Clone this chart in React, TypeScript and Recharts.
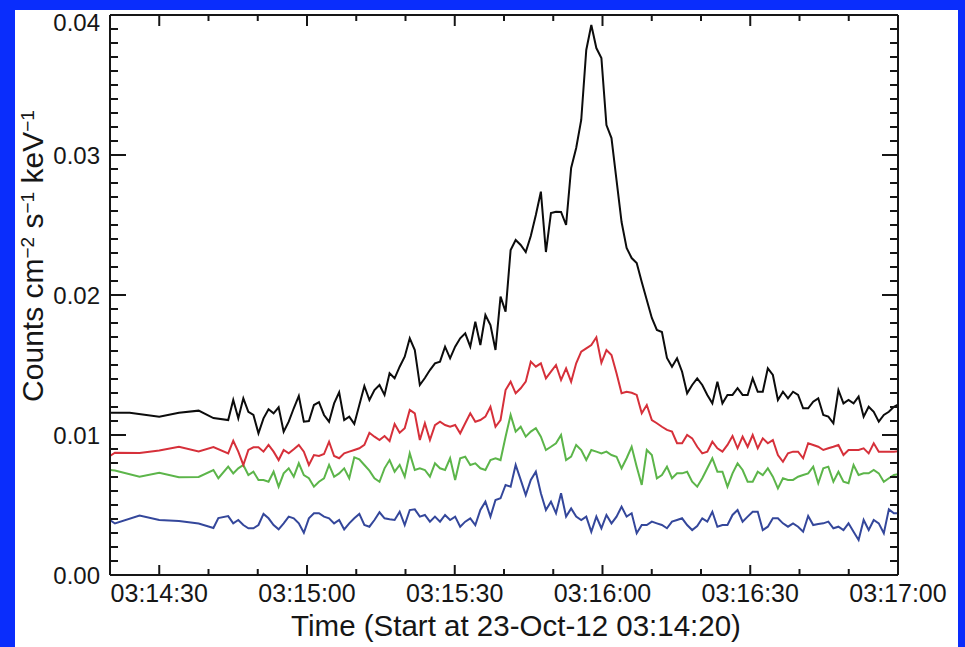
import { Line, LineChart, XAxis, YAxis } from 'recharts'

const INK = '#161616'
const FONT = '"Liberation Sans", Arial, Helvetica, sans-serif'

// seconds after 03:14:20 — a sparse stretch first, then regular 1.024 s bins
const EARLY_SECONDS = [0, 1, 4, 6, 10, 14, 18, 21, 22]
const BIN_START = 24
const BIN_WIDTH = 1.024

// fluxes in units of 1e-3 counts cm^-2 s^-1 keV^-1
const BLACK_EARLY = [11.59, null, 11.59, null, 11.31, 11.59, 11.74, 11.21, null]
const RED_EARLY = [8.5, 8.74, null, 8.71, 8.89, 9.16, 8.82, 9.14, null]
const GREEN_EARLY = [7.5, 7.46, null, 7.02, 7.31, 6.98, 7.0, 7.5, 6.91]
const BLUE_EARLY = [3.93, 3.68, null, 4.25, 3.93, 3.86, 3.68, 3.36, 4.07]

const BLACK = [
  11.07, 12.5, 11.19, 12.62, 11.66, 11.43, 10.12, 11.19, 11.84, 11.55,
  11.98, 10.24, 10.95, 11.91, 12.79, 10.95, 11.0, 12.14, 12.34, 11.43,
  10.95, 12.26, 13.05, 11.07, 11.31, 10.79, 12.14, 13.5, 12.5, 13.21,
  13.57, 12.86, 14.41, 14.05, 14.88, 15.59, 16.91, 16.07, 13.57, 14.07,
  14.64, 15.12, 15.24, 16.31, 15.48, 16.31, 16.91, 17.26, 16.31, 18.09,
  16.43, 18.57, 17.86, 16.07, 19.88, 18.81, 23.21, 23.93, 23.57, 23.07,
  24.21, 25.71, 27.38, 23.07, 25.86, 25.95, 25.93, 25.0, 29.07, 30.5,
  32.5, 37.5, 39.29, 37.64, 36.93, 32.14, 31.21, 28.21, 25.21, 23.36,
  22.64, 22.29, 20.93, 19.64, 18.36, 17.5, 17.36, 15.5, 14.88, 15.48,
  14.52, 12.98, 13.57, 14.05, 13.57, 12.86, 12.26, 13.81, 12.26, 12.86,
  12.86, 13.34, 12.86, 12.86, 14.05, 13.09, 13.09, 14.76, 14.29, 12.5,
  13.09, 12.62, 13.09, 12.86, 11.91, 11.91, 12.38, 12.62, 11.43, 11.31,
  10.84, 13.21, 12.26, 12.5, 12.26, 12.74, 11.31, 12.02, 11.66, 10.95,
  11.43, 11.66, 12.02, 12.21,
]

const RED = [
  8.69, 9.59, 8.81, 7.86, 8.93, 9.12, 9.12, 8.81, 9.29, 8.81,
  8.21, 8.93, 8.69, 8.98, 9.29, 8.81, 7.86, 8.57, 8.5, 8.64,
  9.52, 8.5, 8.34, 8.69, 8.81, 8.93, 9.05, 9.29, 10.16, 9.88,
  9.64, 9.93, 9.57, 10.79, 10.16, 10.48, 11.79, 11.55, 9.64, 10.84,
  9.64, 10.71, 10.95, 10.71, 10.59, 10.71, 10.12, 10.84, 11.55, 10.95,
  11.07, 11.31, 12.02, 10.59, 11.07, 13.21, 13.81, 12.98, 13.34, 13.81,
  15.24, 14.88, 15.12, 14.05, 14.52, 15.0, 13.93, 14.76, 13.81, 15.12,
  15.95, 16.19, 16.43, 16.98, 15.16, 16.07, 15.71, 14.41, 12.98, 13.09,
  13.02, 12.86, 11.55, 12.14, 11.07, 10.84, 10.59, 10.36, 10.24, 9.41,
  9.41, 10.0, 9.76, 9.16, 8.69, 8.81, 9.52, 9.05, 8.81, 9.29,
  9.93, 9.05, 9.88, 9.16, 10.0, 9.05, 9.76, 9.41, 9.64, 8.57,
  8.09, 8.69, 8.81, 8.81, 8.34, 9.41, 9.29, 9.16, 8.93, 9.05,
  9.16, 9.29, 8.57, 8.93, 8.93, 8.93, 9.05, 8.69, 9.41, 8.81,
  8.81, 8.81, 8.81, 8.85,
]

const GREEN = [
  7.74, 7.26, 7.62, 7.86, 7.14, 7.38, 6.79, 6.79, 6.66, 7.38,
  6.31, 7.26, 7.62, 7.02, 7.98, 7.14, 6.91, 6.31, 6.66, 6.91,
  7.86, 7.02, 7.26, 7.62, 6.91, 8.41, 8.26, 7.86, 7.45, 6.91,
  6.66, 7.62, 8.21, 7.38, 7.86, 7.02, 8.69, 7.5, 7.62, 7.5,
  7.02, 7.98, 7.62, 7.5, 8.34, 6.79, 8.34, 8.45, 7.86, 7.98,
  7.62, 7.5, 8.21, 8.34, 8.21, 9.88, 11.43, 10.24, 10.59, 9.88,
  10.24, 10.48, 9.88, 8.93, 9.16, 9.41, 10.0, 8.21, 8.45, 9.29,
  8.93, 8.21, 8.93, 8.81, 8.69, 8.81, 8.57, 8.45, 7.62, 8.34,
  9.16, 7.74, 6.43, 8.93, 8.57, 6.91, 7.14, 7.74, 6.91, 7.26,
  7.26, 7.38, 6.66, 6.31, 6.91, 7.62, 8.34, 7.38, 7.38, 6.31,
  7.26, 7.98, 7.5, 6.66, 6.66, 7.38, 7.14, 7.62, 7.02, 6.19,
  6.91, 6.79, 6.79, 7.02, 7.14, 7.26, 7.74, 6.55, 7.62, 7.74,
  6.66, 7.38, 6.66, 6.55, 7.86, 7.14, 7.26, 7.26, 7.5, 7.26,
  6.66, 6.91, 7.14, 7.2,
]

const BLUE = [
  4.21, 3.69, 3.93, 3.57, 3.34, 3.34, 3.57, 4.36, 4.05, 3.57,
  3.26, 3.69, 4.17, 4.05, 3.69, 3.02, 4.05, 4.41, 4.41, 4.17,
  4.05, 3.69, 3.93, 3.26, 3.69, 4.05, 4.36, 3.57, 3.45, 3.93,
  4.48, 4.05, 3.98, 3.93, 4.52, 3.57, 4.64, 4.69, 4.17, 4.29,
  3.81, 4.17, 3.81, 4.29, 3.93, 4.17, 3.45, 3.81, 4.05, 3.57,
  4.64, 5.24, 4.17, 5.36, 5.48, 6.43, 6.31, 7.86, 6.79, 5.71,
  6.79, 7.38, 5.84, 4.64, 5.24, 4.41, 5.84, 4.17, 4.76, 4.17,
  3.93, 4.17, 3.09, 4.17, 3.34, 4.29, 3.69, 4.17, 4.88, 4.17,
  4.41, 2.98, 3.57, 3.57, 3.81, 3.69, 3.57, 3.34, 3.81, 3.93,
  4.05, 3.57, 3.21, 3.5, 4.05, 3.81, 4.52, 3.45, 3.57, 3.57,
  4.29, 4.64, 3.81, 4.17, 4.52, 4.52, 3.21, 3.45, 4.05, 4.05,
  3.69, 3.45, 3.69, 3.45, 3.09, 4.21, 3.57, 3.64, 3.69, 3.81,
  3.34, 3.45, 3.21, 3.69, 3.09, 2.5, 3.93, 3.21, 3.93, 3.69,
  2.98, 4.69, 4.41, 4.4,
]

const X_TICKS = [10, 20, 30, 40, 50, 60, 70, 80, 90, 100, 110, 120, 130, 140, 150, 160]
const X_MAJOR = [10, 40, 70, 100, 130, 160]
const X_LABELS = ['03:14:30', '03:15:00', '03:15:30', '03:16:00', '03:16:30', '03:17:00']
const Y_MAJOR = [0, 0.01, 0.02, 0.03, 0.04]
const Y_MINOR_STEPS = 10

const yTicks: number[] = []
Y_MAJOR.forEach((v, i) => {
  if (i === 0) { yTicks.push(v); return }
  const prev = Y_MAJOR[i - 1]
  for (let s = 1; s <= Y_MINOR_STEPS; s++) yTicks.push(+(prev + ((v - prev) * s) / Y_MINOR_STEPS).toFixed(4))
})

const binSeconds = BLACK.map((_, i) => BIN_START + i * BIN_WIDTH)
const seconds = [...EARLY_SECONDS, ...binSeconds]
const toFlux = (v: number | null | undefined) => (v == null ? null : v / 1000)
const black = [...BLACK_EARLY, ...BLACK]
const red = [...RED_EARLY, ...RED]
const green = [...GREEN_EARLY, ...GREEN]
const blue = [...BLUE_EARLY, ...BLUE]

const rows = seconds.map((t, i) => ({
  t,
  black: toFlux(black[i]),
  red: toFlux(red[i]),
  green: toFlux(green[i]),
  blue: toFlux(blue[i]),
}))

const isMajorY = (v: number) => Y_MAJOR.some((m) => Math.abs(m - v) < 1e-7)

function BottomTick({ x, y, payload }: any) {
  const idx = X_MAJOR.indexOf(payload.value)
  const len = idx >= 0 ? 10 : 6
  return (
    <g>
      <line x1={x} x2={x} y1={y} y2={y - len} stroke={INK} strokeWidth={2} />
      {idx >= 0 && (
        <text x={x} y={y + 27} textAnchor="middle" fontSize={25} fill={INK} fontFamily={FONT}>
          {X_LABELS[idx]}
        </text>
      )}
    </g>
  )
}

function TopTick({ x, y, payload }: any) {
  const len = X_MAJOR.includes(payload.value) ? 11 : 6
  return <line x1={x} x2={x} y1={y} y2={y + len} stroke={INK} strokeWidth={2} />
}

function LeftTick({ x, y, payload }: any) {
  const major = isMajorY(payload.value)
  const atTop = Math.abs(payload.value - Y_MAJOR[Y_MAJOR.length - 1]) < 1e-7
  return (
    <g>
      <line x1={x} x2={x + (major ? 16 : 8)} y1={y} y2={y} stroke={INK} strokeWidth={2} />
      {major && (
        <text x={x - 10} y={y + (atTop ? 15.5 : 8.5)} textAnchor="end" fontSize={24} fill={INK} fontFamily={FONT}>
          {payload.value.toFixed(2)}
        </text>
      )}
    </g>
  )
}

function RightTick({ x, y, payload }: any) {
  const len = isMajorY(payload.value) ? 16 : 8
  return <line x1={x} x2={x - len} y1={y} y2={y} stroke={INK} strokeWidth={2} />
}

const axisLine = { stroke: INK, strokeWidth: 2 }

export default function App() {
  return (
    <div style={{ position: 'absolute', left: 0, top: 0, width: 965, height: 647, background: '#0a2dfc', overflow: 'hidden' }}>
      <div style={{ position: 'absolute', left: 15, top: 10, width: 943, height: 637, background: '#fff' }} />
      <div style={{ position: 'absolute', left: 0, top: 0 }}>
        <LineChart width={965} height={647} data={rows} margin={{ top: 5, right: 57, bottom: 62, left: 100 }}>
          <XAxis
            xAxisId="bottom"
            dataKey="t"
            type="number"
            domain={[0, 160]}
            allowDataOverflow
            ticks={X_TICKS}
            interval={0}
            height={10}
            tickLine={false}
            tickSize={0}
            tickMargin={0}
            tick={BottomTick}
            axisLine={axisLine}
          />
          <XAxis
            xAxisId="top"
            orientation="top"
            dataKey="t"
            type="number"
            domain={[0, 160]}
            allowDataOverflow
            ticks={X_TICKS}
            interval={0}
            height={10}
            tickLine={false}
            tickSize={0}
            tickMargin={0}
            tick={TopTick}
            axisLine={axisLine}
          />
          <YAxis
            yAxisId="left"
            type="number"
            domain={[0, 0.04]}
            allowDataOverflow
            ticks={yTicks}
            interval={0}
            width={10}
            tickLine={false}
            tickSize={0}
            tickMargin={0}
            tick={LeftTick}
            axisLine={axisLine}
          />
          <YAxis
            yAxisId="right"
            orientation="right"
            type="number"
            domain={[0, 0.04]}
            allowDataOverflow
            ticks={yTicks}
            interval={0}
            width={10}
            tickLine={false}
            tickSize={0}
            tickMargin={0}
            tick={RightTick}
            axisLine={axisLine}
          />
          <Line xAxisId="bottom" yAxisId="left" type="linear" dataKey="blue" stroke="#34479b" strokeWidth={2} dot={false} connectNulls isAnimationActive={false} />
          <Line xAxisId="bottom" yAxisId="left" type="linear" dataKey="green" stroke="#5cb54a" strokeWidth={2} dot={false} connectNulls isAnimationActive={false} />
          <Line xAxisId="bottom" yAxisId="left" type="linear" dataKey="red" stroke="#d6303a" strokeWidth={2} dot={false} connectNulls isAnimationActive={false} />
          <Line xAxisId="bottom" yAxisId="left" type="linear" dataKey="black" stroke="#0c0c0c" strokeWidth={2} dot={false} connectNulls isAnimationActive={false} />
        </LineChart>
      </div>
      <svg width={965} height={647} style={{ position: 'absolute', left: 0, top: 0, pointerEvents: 'none' }}>
        <text x={516} y={636} textAnchor="middle" fontSize={29.5} fill={INK} fontFamily={FONT}>
          Time (Start at 23-Oct-12 03:14:20)
        </text>
        <text transform="translate(43,256) rotate(-90)" textAnchor="middle" fontSize={30} fill={INK} fontFamily={FONT}>
          Counts cm
          <tspan dy={-9} fontSize={19}>−2</tspan>
          <tspan dy={9}>{' s'}</tspan>
          <tspan dy={-9} fontSize={19}>−1</tspan>
          <tspan dy={9}>{' keV'}</tspan>
          <tspan dy={-9} fontSize={19}>−1</tspan>
        </text>
      </svg>
    </div>
  )
}
